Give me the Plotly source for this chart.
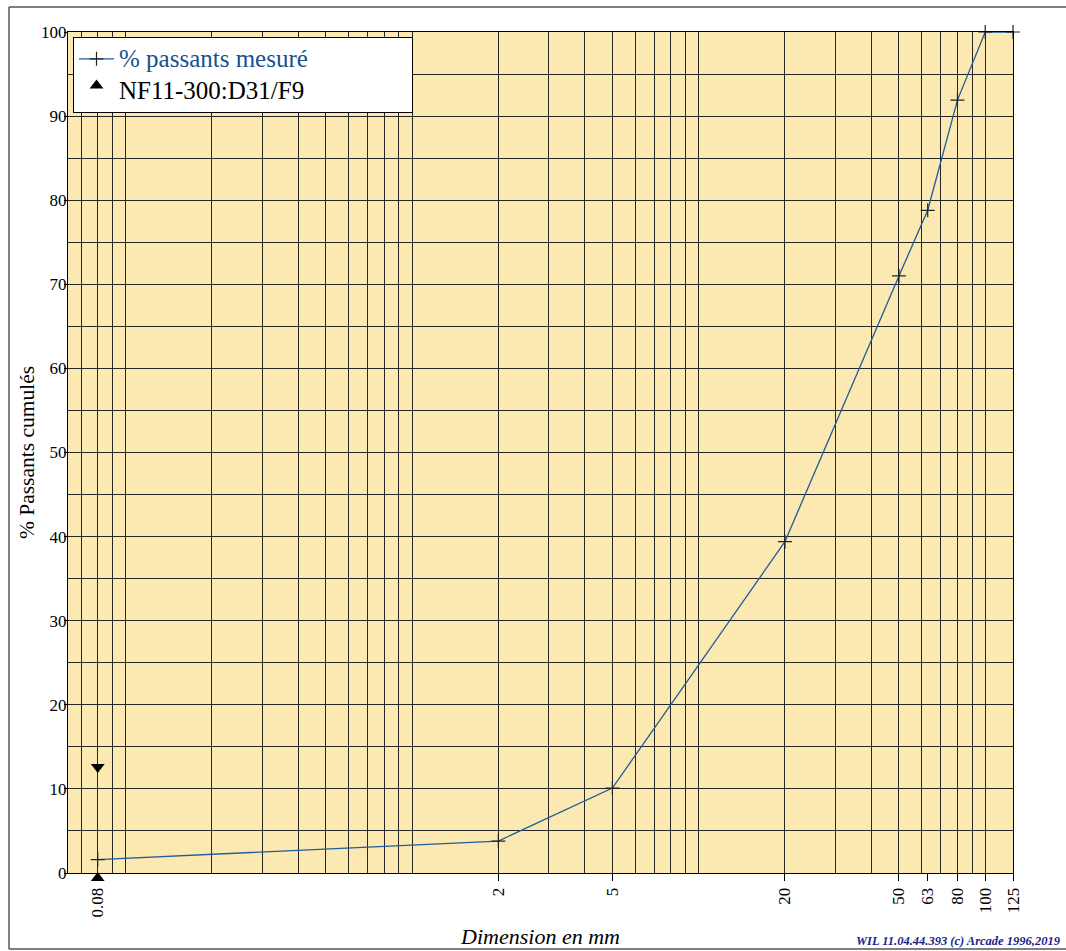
import math
import plotly.graph_objects as go

# Measured grading curve
sizes_mm = [0.08, 2, 5, 20, 50, 63, 80, 100, 125]
passing_pct = [1.6, 3.8, 10.1, 39.4, 71.0, 78.8, 91.9, 100, 100]

# NF11-300 D31/F9 specification bounds at 0.08 mm (min, max)
spec_sizes = [0.08, 0.08]
spec_values = [0, 12]

# Axis ticks and grid
x_tick_vals = [0.08, 2, 5, 20, 50, 63, 80, 100, 125]
x_tick_text = ["0.08", "2", "5", "20", "50", "63", "80", "100", "125"]
x_grid_vals = [0.07, 0.08, 0.09,
               0.1, 0.2, 0.3, 0.4, 0.5, 0.6, 0.7, 0.8, 0.9,
               1, 2, 3, 4, 5, 6, 7, 8, 9,
               10, 20, 30, 40, 50, 60, 70, 80, 90, 100]
x_min, x_max = 0.063, 125

FONT = "Liberation Serif"
BLUE = "#17508f"
GRID = "#262626"
NBSP = "\u00a0"

fig = go.Figure()

fig.add_trace(go.Scatter(
    x=sizes_mm, y=passing_pct,
    mode="lines+markers",
    name='<span style="color:%s;font-size:25px">%% passants mesuré</span>%s' % (BLUE, NBSP * 18),
    line=dict(color="#1d5c9a", width=1.3),
    marker=dict(symbol="cross-thin", size=10, color="#222222",
                line=dict(color="#222222", width=1.2)),
    cliponaxis=False,
))

fig.add_trace(go.Scatter(
    x=spec_sizes, y=spec_values,
    mode="markers",
    name='<span style="font-size:25px">NF11-300:D31/F9</span>',
    marker=dict(symbol="triangle-up", angle=[0, 180], standoff=5,
                size=12, color="black", line=dict(width=0)),
    cliponaxis=False,
))

px_x = lambda p: (p - 68) / 945
px_y = lambda p: (873 - p) / 841
BORDER = dict(color="#555555", width=1.5)

fig.update_layout(
    width=1066, height=951,
    margin=dict(l=68, r=53, t=32, b=78, autoexpand=False),
    paper_bgcolor="white",
    plot_bgcolor="#fce9b1",
    font=dict(family=FONT, size=17, color="black"),
    showlegend=True,
    legend=dict(
        x=px_x(73), y=px_y(37),
        xanchor="left", yanchor="top",
        bgcolor="white", bordercolor="black", borderwidth=1,
        font=dict(family=FONT, size=22, color="black"),
        tracegroupgap=0,
        itemwidth=35,
    ),
    xaxis=dict(
        type="log", automargin=False,
        range=[math.log10(x_min), math.log10(x_max)],
        tickmode="array", tickvals=x_tick_vals, ticktext=x_tick_text,
        tickangle=-90,
        ticks="outside", ticklen=7, tickcolor="black", tickwidth=1,
        showgrid=False,
        minor=dict(tickmode="array", tickvals=x_grid_vals, showgrid=True,
                   gridcolor=GRID, gridwidth=1.1, ticks=""),
        showline=True, linecolor="black", linewidth=1, mirror=True,
        zeroline=False,
        tickfont=dict(family=FONT, size=17),
        title=dict(text="<i>Dimension en mm</i>",
                   font=dict(family=FONT, size=22), standoff=12),
    ),
    yaxis=dict(
        range=[0, 100], automargin=False,
        tickmode="linear", tick0=0, dtick=10,
        ticks="outside", ticklen=3, tickcolor="black",
        ticklabelstandoff=-6,
        showgrid=True, gridcolor=GRID, gridwidth=1.1,
        minor=dict(dtick=5, showgrid=True, gridcolor=GRID, gridwidth=1.1, ticks=""),
        showline=True, linecolor="black", linewidth=1, mirror=True,
        zeroline=False,
        tickfont=dict(family=FONT, size=17),
        title=dict(text="% Passants cumulés",
                   font=dict(family=FONT, size=21.5), standoff=0),
    ),
    shapes=[
        dict(type="line", xref="paper", yref="paper",
             x0=px_x(9), x1=px_x(1070), y0=px_y(7), y1=px_y(7), line=BORDER),
        dict(type="line", xref="paper", yref="paper",
             x0=px_x(9), x1=px_x(1070), y0=px_y(949), y1=px_y(949), line=BORDER),
        dict(type="line", xref="paper", yref="paper",
             x0=px_x(9), x1=px_x(9), y0=px_y(7), y1=px_y(949), line=BORDER),
    ],
    annotations=[dict(
        text="<b><i>WIL 11.04.44.393 (c) Arcade 1996,2019</i></b>",
        xref="paper", yref="paper",
        x=px_x(1063), y=px_y(941),
        xanchor="right", yanchor="middle",
        showarrow=False,
        font=dict(family=FONT, size=12.5, color="#1b1f86"),
    )],
)

fig.write_html("out.html", post_script="document.body.style.margin='0';",
               config={"displayModeBar": False})
